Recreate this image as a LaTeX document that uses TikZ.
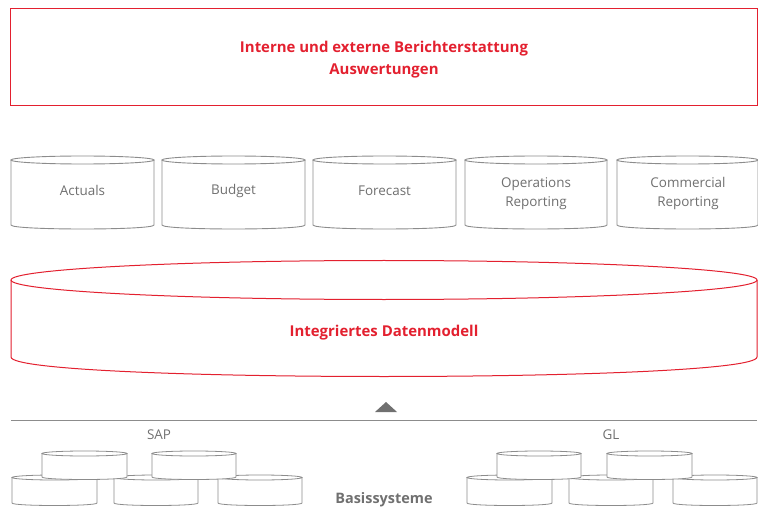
\documentclass[tikz,border=0pt]{standalone}
\usepackage{fontspec}
\setmainfont{Open Sans}
\definecolor{myred}{HTML}{E3202F}
\definecolor{mygray}{HTML}{707070}
\definecolor{linegray}{HTML}{8C8C8C}
\newcommand\mycyl[5]{%
  \pgfmathsetmacro\cx{(#1+#2)/2}%
  \pgfmathsetmacro\rx{(#2-#1)/2}%
  \pgfmathsetmacro\kb{#4+4/3*#5}%
  \pgfmathsetmacro\kt{#3-4/3*#5}%
  \fill[white] (#1,#3) -- (#1,#4) .. controls (#1,\kb) and (#2,\kb) .. (#2,#4) -- (#2,#3) .. controls (#2,\kt) and (#1,\kt) .. cycle;
  \draw[cylline] (#1,#3) -- (#1,#4) .. controls (#1,\kb) and (#2,\kb) .. (#2,#4) -- (#2,#3);
  \draw[cylline] (\cx,#3) ellipse [x radius=\rx bp, y radius=#5 bp];
}
\begin{document}
\begin{tikzpicture}[x=1bp,y=-1bp,
  cylline/.style={draw=linegray, line width=0.8bp},
  redline/.style={draw=myred, line width=1bp},
  graytext/.style={text=mygray, font=\fontsize{13.5}{19}\selectfont, align=center},
  redtitle/.style={text=myred, font=\bfseries\fontsize{15}{22}\selectfont, align=center},
  boldgray/.style={text=mygray, font=\bfseries\fontsize{14.5}{17}\selectfont}]
\useasboundingbox (0,0) rectangle (758,509);
% top box
\draw[redline] (10.5,8.5) rectangle (757,106);
\node[redtitle] (title) at (384,60) {Interne und externe Berichterstattung\\Auswertungen};
% five cylinders
\begin{scope}[cylline/.style={draw=linegray, line width=0.9bp}]
\mycyl{11}{154}{160}{225}{4}
\mycyl{162}{305}{160}{225}{4}
\mycyl{313}{456}{160}{225}{4}
\mycyl{465}{607}{160}{225}{4}
\mycyl{617}{758}{160}{225}{4}
\end{scope}
\node[graytext] (act) at (82.5,190.5) {Actuals};
\node[graytext] (bud) at (233.5,191.5) {Budget};
\node[graytext] (for) at (384.5,190.5) {Forecast};
\node[graytext] (ops) at (536,193.5) {Operations\\Reporting};
\node[graytext] (com) at (688,193.5) {Commercial\\Reporting};
% big cylinder
\begin{scope}[cylline/.style={draw=myred, line width=1bp}]
\mycyl{11}{757}{280}{357}{19.5}
\end{scope}
\node[redtitle] (idm) at (384,332.5) {Integriertes Datenmodell};
% arrow triangle and line
\fill[mygray] (375,412) -- (397,412) -- (386,402) -- cycle;
\draw[linegray, line width=1bp] (11,420) -- (757,420);
\node[graytext] (sap) at (159,435) {SAP};
\node[graytext] (gl) at (611,435) {GL};
% source system groups
\begin{scope}[cylline/.style={draw=linegray, line width=0.8bp}]
\mycyl{12}{97}{477.5}{503}{2.5}
\mycyl{114}{198}{477.5}{503}{2.5}
\mycyl{218}{302}{477.5}{503}{2.5}
\mycyl{42}{127}{453.5}{477}{2.5}
\mycyl{152}{236}{453.5}{477}{2.5}
\mycyl{467}{552}{477.5}{503}{2.5}
\mycyl{569}{653}{477.5}{503}{2.5}
\mycyl{673}{757}{477.5}{503}{2.5}
\mycyl{497}{581}{453.5}{477}{2.5}
\mycyl{607}{692}{453.5}{477}{2.5}
\end{scope}
\node[boldgray] (bas) at (384,500) {Basissysteme};
\end{tikzpicture}
\end{document}
